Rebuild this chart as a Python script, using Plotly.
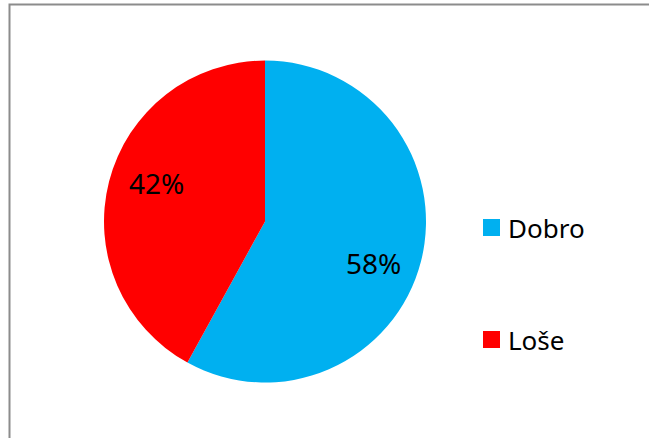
import math
import plotly.graph_objects as go

labels = ["Dobro", "Loše"]
values = [58, 42]
colors = ["#00B0F0", "#FF0000"]

W, H = 649, 438
FONT = "Noto Sans, Open Sans, sans-serif"

def px(x):
    return x / W

def py(y):
    return 1 - y / H

CX, CY, R = 265, 221.5, 161

fig = go.Figure()
fig.add_trace(go.Pie(
    labels=labels,
    values=values,
    marker=dict(colors=colors, line=dict(width=0)),
    sort=False,
    direction="clockwise",
    rotation=0,
    textinfo="none",
    domain=dict(x=[px(CX - R), px(CX + R)], y=[py(CY + R), py(CY - R)]),
    showlegend=False,
    hoverinfo="label+percent",
))

# Percent labels placed around 0.72 of the radius, near each slice's mid-angle
total = sum(values)
cum = 0
for v in values:
    mid = (cum + v / 2) / total * 2 * math.pi + math.radians(6)
    cum += v
    lx = CX + 0.72 * R * math.sin(mid)
    ly = CY - 0.72 * R * math.cos(mid) + 1.5
    fig.add_annotation(xref="paper", yref="paper", x=px(lx), y=py(ly),
                       text=f"{round(v / total * 100)}%", showarrow=False,
                       xanchor="center", yanchor="middle",
                       font=dict(family=FONT, size=28, color="#000000"))

# Frame around the chart area (top and left edges visible)
fig.add_shape(type="rect", xref="paper", yref="paper",
              x0=px(9.5), x1=1.1, y0=-0.1, y1=py(4.5),
              line=dict(color="#8C8C8C", width=2), fillcolor="rgba(0,0,0,0)", layer="below")

# Manual legend (large spacing between entries)
legend_y = [227.5, 339.5]
for lab, col, yc in zip(labels, colors, legend_y):
    fig.add_shape(type="rect", xref="paper", yref="paper",
                  x0=px(483), x1=px(500), y0=py(yc + 8.5), y1=py(yc - 8.5),
                  line=dict(width=0), fillcolor=col)
    fig.add_annotation(xref="paper", yref="paper", x=px(506), y=py(yc),
                       text=lab, showarrow=False, xanchor="left", yanchor="middle",
                       font=dict(family=FONT, size=26, color="#000000"))

fig.update_layout(
    width=W, height=H,
    margin=dict(l=0, r=0, t=0, b=0),
    paper_bgcolor="#FFFFFF",
    plot_bgcolor="#FFFFFF",
    showlegend=False,
)

fig.write_html("out.html",
               config={"displayModeBar": False},
               post_script="document.body.style.margin='0px';document.body.style.overflow='hidden';")
